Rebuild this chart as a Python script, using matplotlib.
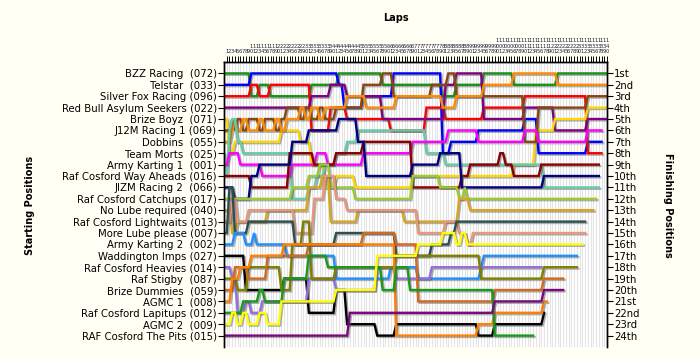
import matplotlib
matplotlib.use("Agg")
import matplotlib.pyplot as plt
import matplotlib.patheffects as pe

plt.rcParams['font.family'] = ['DejaVu Sans']

n_laps = 140

teams = ["BZZ Racing  (072)", "Telstar  (033)", "Silver Fox Racing (096)",
         "Red Bull Asylum Seekers (022)", "Brize Boyz  (071)", "J12M Racing 1 (069)",
         "Dobbins  (055)", "Team Morts  (025)", "Army Karting 1  (001)",
         "Raf Cosford Way Aheads (016)", "JIZM Racing 2  (066)", "Raf Cosford Catchups (017)",
         "No Lube required (040)", "Raf Cosford Lightwaits (013)", "More Lube please (007)",
         "Army Karting 2  (002)", "Waddington Imps (027)", "Raf Cosford Heavies (014)",
         "Raf Stigby  (087)", "Brize Dummies  (059)", "AGMC 1  (008)",
         "Raf Cosford Lapitups (012)", "AGMC 2  (009)", "RAF Cosford The Pits (015)"]

finish_labels = ["1st", "2nd", "3rd"] + [f"{i}th" for i in range(4, 21)] + ["21st", "22nd", "23rd", "24th"]

colors = ["#169416", "#0000ff", "#ff0000", "#800080", "#ffd700", "#8b4513",
          "#ff8c00", "#66cdaa", "#ff00ff", "#8b0000", "#000080", "#9acd32",
          "#daa520", "#e9967a", "#2f4f4f", "#1e90ff", "#000000", "#9370db",
          "#808000", "#d2691e", "#ff7f00", "#1a9a1a", "#ffff00", "#7a0a7a"]

# position runs per team: (position, held until lap)
runs = [
    [(1, 9), (3, 12), (2, 16), (3, 31), (2, 41), (1, 57), (2, 79), (3, 84), (2, 94), (1, 105),
     (2, 121), (1, 140)],
    [(2, 9), (1, 41), (2, 43), (4, 50), (3, 61), (1, 79), (8, 82), (7, 92), (6, 109), (5, 114), (8, 132),
     (7, 138)],
    [(3, 9), (2, 12), (3, 16), (2, 31), (6, 38), (4, 44), (5, 60), (6, 73), (4, 80), (5, 94), (4, 109),
     (3, 132), (8, 138)],
    [(4, 31), (3, 38), (2, 44), (3, 57), (5, 80), (2, 84), (1, 94), (5, 109), (4, 120), (6, 132), (5, 140)],
    [(5, 1), (8, 3), (7, 20), (6, 27), (7, 31), (9, 36), (11, 40), (10, 47), (11, 68), (10, 89), (10, 105),
     (9, 113), (6, 120), (5, 132), (4, 140)],
    [(6, 2), (5, 3), (6, 4), (5, 6), (6, 8), (5, 12), (6, 14), (5, 18), (6, 20), (5, 22), (4, 27), (5, 29),
     (4, 31), (5, 34), (4, 36), (5, 40), (4, 50), (2, 57), (1, 61), (3, 75), (2, 81), (1, 84), (3, 109),
     (7, 114), (4, 132), (3, 140)],
    [(7, 2), (6, 3), (5, 4), (6, 6), (5, 8), (6, 12), (5, 14), (6, 18), (5, 20), (6, 22), (5, 27), (4, 29),
     (5, 31), (4, 34), (5, 36), (4, 44), (3, 51), (4, 62), (3, 79), (4, 84), (3, 94), (2, 105), (1, 121),
     (2, 140)],
    [(8, 0), (10, 1), (6, 2), (5, 4), (7, 6), (8, 24), (12, 30), (11, 33), (10, 36), (9, 40), (8, 44),
     (7, 48), (6, 73), (8, 80), (9, 116), (11, 137)],
    [(9, 1), (8, 5), (9, 13), (10, 24), (9, 33), (8, 37), (9, 50), (8, 68), (7, 81), (6, 92), (7, 109),
     (6, 114), (7, 132), (6, 138)],
    [(10, 9), (11, 23), (8, 32), (9, 40), (8, 50), (7, 68), (11, 86), (10, 89), (9, 100), (8, 102),
     (9, 105), (10, 115), (9, 137)],
    [(11, 3), (12, 9), (10, 12), (9, 24), (7, 30), (6, 41), (5, 48), (7, 51), (10, 68), (9, 78), (8, 86),
     (11, 116), (10, 137)],
    [(12, 24), (11, 30), (10, 34), (9, 38), (11, 47), (12, 68), (10, 78), (11, 85), (12, 87), (11, 88),
     (12, 136)],
    [(13, 2), (15, 4), (14, 15), (13, 30), (11, 35), (10, 38), (14, 48), (13, 65), (14, 85), (12, 89),
     (13, 135)],
    [(14, 2), (12, 4), (14, 8), (13, 25), (15, 32), (12, 36), (10, 40), (12, 44), (13, 70), (15, 80),
     (14, 85), (15, 88), (16, 90), (15, 132)],
    [(15, 1), (11, 3), (15, 8), (14, 25), (16, 40), (15, 62), (17, 75), (16, 82), (15, 84), (14, 132)],
    [(16, 3), (15, 7), (16, 10), (15, 11), (16, 22), (17, 40), (19, 60), (18, 70), (19, 93), (18, 94),
     (17, 129)],
    [(17, 7), (20, 21), (19, 30), (22, 40), (20, 44), (23, 55), (24, 62), (23, 92), (24, 98), (23, 116),
     (22, 117)],
    [(18, 2), (19, 4), (22, 7), (21, 9), (22, 13), (21, 30), (19, 40), (20, 55), (18, 62), (19, 75),
     (18, 116)],
    [(19, 4), (20, 8), (18, 20), (20, 24), (16, 28), (14, 31), (19, 40), (18, 62), (17, 93), (19, 116),
     (18, 129)],
    [(20, 3), (18, 8), (19, 15), (17, 30), (16, 50), (15, 62), (16, 70), (21, 98), (20, 116), (19, 124)],
    [(21, 2), (19, 5), (18, 9), (17, 21), (16, 62), (24, 92), (23, 98), (22, 116), (21, 118)],
    [(22, 6), (21, 12), (20, 14), (21, 21), (19, 30), (17, 37), (18, 57), (20, 62), (18, 67), (20, 98),
     (24, 113)],
    [(23, 2), (22, 4), (23, 6), (22, 8), (23, 12), (22, 15), (23, 20), (21, 40), (20, 55), (17, 70),
     (16, 79), (15, 84), (16, 86), (15, 88), (16, 131)],
    [(24, 45), (22, 98), (21, 116), (20, 124)],
]

fig = plt.figure(figsize=(7, 3.6), dpi=100, facecolor="#fffff4")
ax = fig.add_axes([224 / 700, 13 / 360, 383 / 700, 285 / 360])
ax.set_facecolor("white")

for run, col in zip(runs, colors):
    xs, ys = [], []
    lap = 0
    for pos, until in run:
        while lap <= until:
            xs.append(lap)
            ys.append(pos)
            lap += 1
    ax.plot(xs, ys, color=col, lw=1.7, solid_joinstyle="miter",
            path_effects=[pe.SimpleLineShadow(offset=(1, -1), shadow_color="#555555", alpha=0.45),
                          pe.Normal()])

ax.set_xlim(0, n_laps)
ax.set_ylim(25, 0)

laps = list(range(1, n_laps + 1))
ax.xaxis.tick_top()
ax.set_xticks(laps)
ax.set_xticklabels(["\n".join(str(n)) for n in laps], fontsize=3.8, linespacing=1.15, color="#202040")
ax.tick_params(axis="x", length=4, width=0.7, pad=1.5)
ax.grid(axis="x", color="#e4e4e4", lw=0.8)
ax.set_axisbelow(True)

ax.set_yticks(range(1, 25))
ax.set_yticklabels(teams, fontsize=7.3)
ax.tick_params(axis="y", length=4, width=0.8, pad=1)

ax2 = ax.twinx()
ax2.set_ylim(25, 0)
ax2.set_yticks(range(1, 25))
ax2.set_yticklabels(finish_labels, fontsize=7.3)
ax2.tick_params(axis="y", length=4, width=0.8, pad=1)

for a in (ax, ax2):
    a.spines["bottom"].set_visible(False)
    for s in ("left", "right", "top"):
        a.spines[s].set_linewidth(1.0)

fig.text(396 / 700, 1 - 18 / 360, "Laps", ha="center", va="center", fontsize=7, fontweight="bold")
fig.text(30 / 700, 1 - 205 / 360, "Starting Positions", rotation=90, ha="center", va="center",
         fontsize=7, fontweight="bold")
fig.text(668 / 700, 1 - 205 / 360, "Finishing Positions", rotation=270, ha="center", va="center",
         fontsize=7, fontweight="bold")

fig.savefig("out.png", dpi=100, facecolor=fig.get_facecolor())
